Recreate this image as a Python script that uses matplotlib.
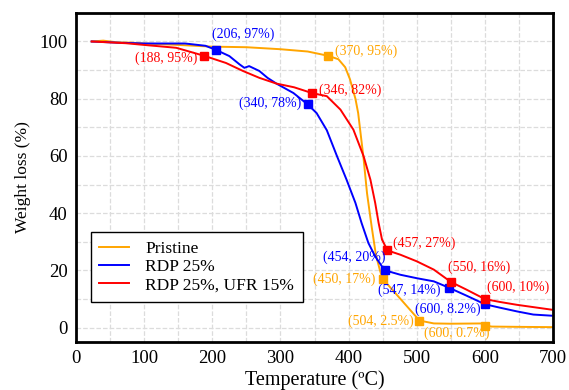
import numpy as np
import matplotlib.pyplot as plt
from matplotlib.ticker import MultipleLocator

plt.rcParams['font.family'] = ['Liberation Serif', 'DejaVu Serif']

# Pristine curve
t_pristine = [23, 40, 60, 80, 100, 150, 200, 250, 300, 340, 370, 385, 395, 402, 410, 414,
              417, 422, 427, 434, 440, 446, 450, 454, 480, 504, 525, 550, 598, 602, 610,
              650, 700]
w_pristine = [100, 100.3, 99.7, 99.6, 99.3, 98.8, 98.2, 98.0, 97.3, 96.5, 95.0, 93.8, 91.0,
              86.8, 80.0, 75.0, 69.0, 59.0, 47.0, 35.0, 25.5, 20.0, 17.0, 16.0, 9.0, 2.5,
              1.5, 1.4, 1.5, 0.7, 0.4, 0.3, 0.2]
# RDP 25%
t_rdp = [23, 60, 100, 160, 190, 206, 225, 240, 247, 254, 269, 281, 294, 319, 340, 353, 368,
         383, 397, 410, 419, 429, 439, 449, 454, 476, 500, 525, 547, 573, 600, 622, 647,
         671, 698]
w_rdp = [100, 99.6, 99.3, 99.3, 98.5, 97.0, 94.9, 92.0, 90.8, 91.4, 89.7, 87.3, 85.3, 82.0,
         78.0, 75.0, 69.0, 59.9, 51.7, 43.6, 36.6, 29.6, 24.9, 21.4, 20.0, 18.5, 17.3, 16.2,
         14.0, 11.2, 8.2, 7.0, 5.7, 4.6, 4.2]
# RDP 25%, UFR 15%
t_ufr = [23, 73, 100, 147, 188, 220, 245, 269, 294, 300, 320, 346, 368, 388, 407, 422, 432,
         439, 444, 449, 457, 476, 500, 525, 550, 573, 600, 622, 647, 671, 698]
w_ufr = [100, 99.4, 98.8, 97.8, 95.0, 92.5, 89.7, 87.3, 85.3, 85.0, 84.0, 82.0, 80.9, 76.2,
         69.2, 59.9, 51.7, 43.6, 36.6, 30.8, 27.0, 25.5, 23.2, 20.3, 16.0, 13.3, 10.0, 9.0,
         8.0, 7.2, 6.3]

# labelled points
mk_pristine_t = [370, 450, 504, 600]
mk_pristine_w = [95, 17, 2.5, 0.7]
mk_rdp_t = [206, 340, 454, 547, 600]
mk_rdp_w = [97, 78, 20, 14, 8.2]
mk_ufr_t = [188, 346, 457, 550, 600]
mk_ufr_w = [95, 82, 27, 16, 10]

c_pristine = '#ffa500'
c_rdp = '#0000ff'
c_ufr = '#ff0000'

fig = plt.figure(figsize=(5.69, 3.9), dpi=100)
ax = fig.add_axes([0.1336, 0.123, 0.8384, 0.844])

ax.plot(t_pristine, w_pristine, color=c_pristine, lw=1.4, label='Pristine')
ax.plot(t_rdp, w_rdp, color=c_rdp, lw=1.4, label='RDP 25%')
ax.plot(t_ufr, w_ufr, color=c_ufr, lw=1.4, label='RDP 25%, UFR 15%')

ax.plot(mk_pristine_t, mk_pristine_w, 's', color=c_pristine, ms=6, ls='none')
ax.plot(mk_rdp_t, mk_rdp_w, 's', color=c_rdp, ms=6, ls='none')
ax.plot(mk_ufr_t, mk_ufr_w, 's', color=c_ufr, ms=6, ls='none')

def lab(t, w, col, dx, dy):
    txt = '(%g, %g%%)' % (t, w)
    ax.annotate(txt, (t, w), xytext=(dx, dy), textcoords='offset pixels',
                ha='center', va='center', color=col, fontsize=10)

off_pristine = [(38, 5), (-39, 0), (-39, -1), (-28, -8)]
off_rdp = [(27, 16), (-38, 1), (-31, 13), (-40, -3), (-37, -5)]
off_ufr = [(-38, -2), (38, 3), (37, 7), (28, 15), (33, 12)]
for t, w, o in zip(mk_pristine_t, mk_pristine_w, off_pristine):
    lab(t, w, c_pristine, *o)
for t, w, o in zip(mk_rdp_t, mk_rdp_w, off_rdp):
    lab(t, w, c_rdp, *o)
for t, w, o in zip(mk_ufr_t, mk_ufr_w, off_ufr):
    lab(t, w, c_ufr, *o)

ax.set_xlim(0, 700)
ax.set_ylim(-5, 110)
ax.set_xticks(np.arange(0, 701, 100))
ax.set_yticks(np.arange(0, 101, 20))
ax.xaxis.set_minor_locator(MultipleLocator(50))
ax.yaxis.set_minor_locator(MultipleLocator(10))
ax.grid(which='both', ls='--', color='#dcdcdc', lw=0.9)
ax.set_axisbelow(True)
ax.tick_params(which='both', length=0, labelsize=13.5, pad=6)
for s in ax.spines.values():
    s.set_linewidth(2)

ax.set_xlabel('Temperature (ºC)', fontsize=14.5, labelpad=2)
ax.set_ylabel('Weight loss (%)', fontsize=12.5, labelpad=6)

leg = ax.legend(loc='upper left', bbox_to_anchor=(0.031, 0.334), borderaxespad=0,
                fontsize=12.5, fancybox=False, edgecolor='black', framealpha=1,
                handlelength=1.7, handletextpad=0.95, labelspacing=0.12,
                borderpad=0.5)
leg.get_frame().set_linewidth(1)

fig.savefig('out.png', dpi=100)
